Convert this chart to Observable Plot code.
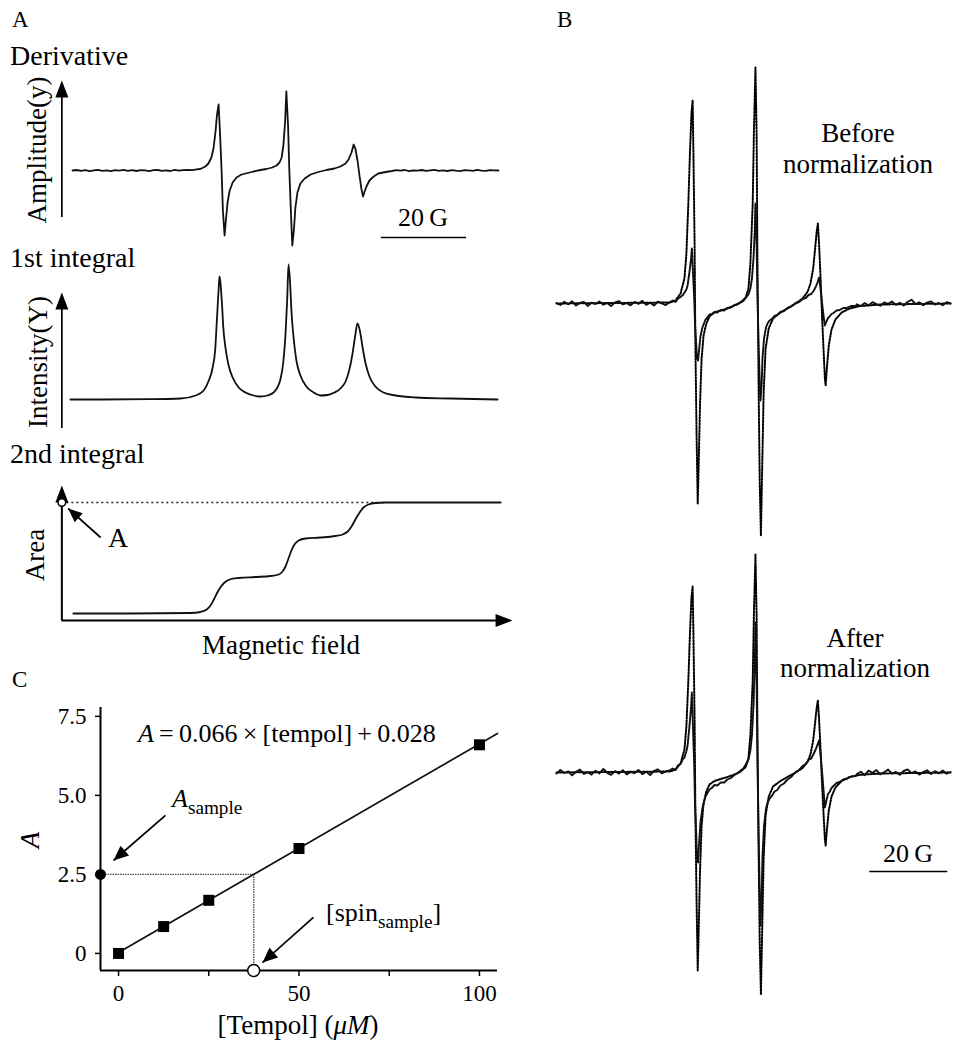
<!DOCTYPE html>
<html><head><meta charset="utf-8">
<script src="https://cdn.jsdelivr.net/npm/d3@7"></script>
<script src="https://cdn.jsdelivr.net/npm/@observablehq/plot@0.6"></script>
<style>
html,body{margin:0;padding:0;background:#fff;}
#fig{position:relative;width:954px;height:1050px;overflow:hidden;font-family:"Liberation Serif","DejaVu Serif",serif;color:#000;background:#fff;}
.lbl{position:absolute;white-space:nowrap;line-height:1;font-family:"Liberation Serif","DejaVu Serif",serif;}
.sub{font-size:0.74em;position:relative;top:0.36em;}
</style></head><body><div id="fig"></div>
<script>
// ================= DATA =================
// Panel A – field (G) vs derivative amplitude
const derivSpectrum = [
[0,0],[1,0.5],[2,-0.4],[3,0.3],[4,-0.6],[5,0.2],[6,0.6],[7,-0.3],[8,0.1],[9,-0.6],[10,0.4],[11,-0.2],[12,0.6],[13,-0.4],[14,0.3],[15,-0.5],[16,0.4],[17,0.1],[18,-0.6],[19,0.3],[20,0.5],[21,-0.3],[22,0.2],[23,-0.5],[24,0.6],[25,-0.2],[26,0.3],[27,0.7],[28,0.4],[29.2,1.2],
[30.0,1.5],[31.2,4],[31.9,7],[32.6,13],[33.1,22],[33.6,40],[33.9,55],[34.3,66],[34.6,40],[35.0,0],[35.3,-40],[35.7,-65],[36.0,-50],[36.4,-32],[36.9,-20],[37.6,-12],[38.5,-7],[39.7,-4],[41.1,-2.5],[42.5,-1],[44.1,0.5],[45.5,1.5],[46.9,3],[47.9,5],[48.6,8],[49.1,13],[49.5,25],[49.9,48],[50.2,79],[50.6,45],[50.9,0],[51.3,-45],[51.6,-75],[52.0,-58],[52.3,-38],[52.8,-22],[53.5,-13],[54.5,-8],[55.9,-4],[57.7,-1.5],[59.6,0.5],[61.5,2],[62.9,4],[64.1,7],[64.8,11],[65.5,18],[66.0,26],[66.4,22],[66.9,10],[67.4,-6],[67.8,-18],[68.2,-26],[68.5,-22],[69.0,-16],[69.7,-10],[70.7,-6],[71.8,-3],[73.5,-1.5],
[75,-0.5],[76,0.3],[77,-0.2],[78,0.5],[79,-0.6],[80,0.2],[81,-0.1],[82,0.5],[83,-0.4],[84,0.2],[85,0.6],[86,-0.3],[87,0.1],[88,-0.5],[89,0.4],[90,-0.2],[91,-0.6],[92,0.3],[93,0.1],[94,-0.4],[95,0.6],[96,-0.1],[97,-0.4],[98,0.3],[99,0.2],[100,0]
];
// Panel A – 1st integral (intensity)
const firstIntegral = [
[-0.5,0],[6.6,0],[18.3,0.3],[25.4,1],[28.9,4],[30.8,9],[31.9,18],[32.9,32],[33.5,50],[33.9,80],[34.3,110],[34.5,123],[34.7,118],[35.1,95],[35.4,72],[35.9,52],[36.6,35],[37.6,22],[39.0,12],[40.6,7],[42.5,4],[44.1,3],[45.8,4],[47.2,7],[48.1,12],[48.8,20],[49.5,38],[50.0,65],[50.4,100],[50.7,135],[51.1,115],[51.4,88],[51.9,62],[52.6,38],[53.5,24],[54.9,13],[56.6,7],[58.2,4],[59.9,4.5],[61.5,7],[62.9,11],[64.1,18],[65.0,30],[65.7,45],[66.3,62],[66.9,76],[67.5,68],[68.1,52],[68.8,36],[69.7,23],[71.1,13],[73.0,7],[75.8,4],[80.5,2],[88.7,1],[99.8,0]
];
// Panel A – 2nd integral (area)
const secondIntegral = [
[0.2,7],[13.6,7],[27.7,7.5],[30.0,8.5],[31.5,11],[32.4,15],[33.3,22],[34.0,28],[34.7,33],[35.7,38],[36.9,41],[39.0,42.5],[42.9,43.5],[46.5,44.5],[48.4,46],[49.3,49],[50.0,54],[50.7,62],[51.4,70],[52.1,76],[53.1,80],[54.7,82],[58.2,83],[61.7,84.5],[63.4,86],[64.6,89],[65.5,94],[66.4,101],[67.4,108],[68.3,113],[69.5,116],[71.1,117.5],[73.5,118],[81.7,118],[100.5,118]
];
const areaA = 118;          // value of A marked on the 2nd integral
const scaleBarG = 20;       // scale bar length (G)

// Panel B – before normalization
const beforeSolid = [
[0,0.5],[1,-1.5],[2,1.8],[3,-0.8],[4,2.2],[5,-2.0],[6,0.6],[7,1.5],[8,-2.4],[9,0.9],[10,-0.5],[11,2.0],[12,-1.2],[13,0.4],[14,-2.6],[15,1.1],[16,2.4],[17,-0.9],[18,0.3],[19,-1.8],[20,1.6],[21,-0.4],[22,2.7],[23,-1.3],[24,0.8],[25,-2.1],[26,1.9],[27,0.2],[28,-1.6],[29,1.2],
[29.8,3],[30.5,1.5],[31.2,5],[31.8,6.5],[32.4,8.5],[32.8,11],[33.3,14],[33.6,18],[34.1,32],[34.5,45],[34.7,55],[35.0,30],[35.3,5],[35.5,-20],[35.8,-40],[36.0,-55],[36.3,-57],[36.5,-48],[36.9,-33],[37.4,-24],[37.8,-20],[38.2,-16],[38.7,-14],[39.2,-11],[39.8,-10.5],[40.5,-8.5],[41.2,-9],[42.1,-6.5],[43,-7],[43.8,-4.5],[44.7,-4],[45.6,-1.5],[46.4,-1],[47.2,1.5],[47.9,2.5],[48.5,5.5],[49.2,9],[49.7,15],[50.1,25],[50.5,45],[50.8,70],[51.0,100],[51.3,60],[51.5,10],[51.8,-40],[52.1,-80],[52.3,-97],[52.6,-80],[52.8,-55],[53.2,-35],[53.7,-24],[54.1,-20],[54.6,-17],[55.2,-15.5],[55.9,-12.5],[56.6,-11.5],[57.4,-8.5],[58.3,-7.5],[59.2,-4.5],[60.2,-3],[61.3,0.5],[62.2,1.5],[63.1,4.5],[63.9,5.5],[64.6,8.5],[65.3,9.5],[65.9,12.5],[66.5,17],[67.0,22],[67.3,26],[67.7,14],[68.1,0],[68.5,-14],[68.8,-22],[69.2,-18],[69.6,-14.5],[70.0,-13],[70.5,-10.5],[71.0,-9.5],[71.8,-7],[72.6,-6.5],[73.5,-4.5],[74.4,-4.5],[75.5,-2.5],[76.7,-2.5],
[77,-0.8],[78,-2.5],[79,0.4],[80,-1.9],[81,1.3],[82,-0.6],[83,-2.2],[84,1.0],[85,-0.3],[86,2.0],[87,-1.4],[88,0.7],[89,-2.0],[90,1.5],[91,3.8],[92,-0.5],[93,1.2],[94,-1.7],[95,0.9],[96,2.1],[97,-1.1],[98,0.5],[99,-1.8],[100,1.3],[101,0]
];
const beforeDotted = [
[0,0],[29.2,1],[30.5,3],[31.8,10],[32.8,25],[33.3,50],[33.8,100],[34.2,150],[34.6,190],[34.9,203],[35.1,150],[35.4,60],[35.6,-40],[35.9,-130],[36.2,-200],[36.4,-170],[36.8,-100],[37.2,-55],[37.7,-32],[38.4,-20],[39.2,-13],[40.5,-9],[42.1,-7],[43.8,-5],[45.6,-2],[47.2,1],[48.5,6],[49.2,15],[49.7,40],[50.3,100],[50.6,170],[51.0,236],[51.3,170],[51.5,50],[51.8,-80],[52.1,-180],[52.4,-232],[52.7,-170],[53.1,-90],[53.6,-45],[54.4,-25],[55.5,-15],[57.4,-9],[59.2,-5],[61.3,0],[63.1,5],[64.4,12],[65.1,20],[65.8,35],[66.3,55],[66.7,72],[67.0,80],[67.3,60],[67.7,25],[68.1,-15],[68.5,-50],[68.8,-75],[69.0,-82],[69.3,-65],[69.8,-42],[70.5,-26],[71.5,-16],[73.1,-9],[75.1,-5],[77.9,-2.5],[83.1,-1],[101,0]
];
// Panel B – after normalization
const afterSolid = [
[0,-1],[1,2.5],[2,-0.5],[3,1.2],[4,-2.8],[5,0.7],[6,2.9],[7,-1.4],[8,0.2],[9,-2.2],[10,1.8],[11,-0.9],[12,3.5],[13,-0.3],[14,-2.4],[15,1.4],[16,-1.1],[17,2.3],[18,-1.9],[19,0.5],[20,-0.7],[21,2.6],[22,-1.6],[23,0.9],[24,-2.5],[25,1.7],[26,3.2],[27,-0.8],[28,1.1],[29,2.2],
[29.8,4],[30.5,2.5],[31.2,7.5],[31.8,8.5],[32.4,13.5],[32.8,15],[33.3,21.5],[33.6,27],[34.1,47],[34.5,66],[34.7,80],[35.0,44],[35.3,7],[35.5,-30],[35.8,-60],[36.0,-85],[36.3,-90],[36.5,-74],[36.9,-50],[37.4,-36],[37.8,-29.5],[38.2,-24],[38.7,-20.5],[39.2,-17],[39.8,-15.5],[40.5,-12.5],[41.2,-13],[42.1,-10],[43,-10],[43.8,-7],[44.7,-5.5],[45.6,-2.5],[46.4,-1],[47.2,2],[47.9,4],[48.5,8],[49.2,13],[49.7,22],[50.1,37],[50.5,67],[50.8,105],[51.0,150],[51.3,90],[51.5,15],[51.8,-60],[52.1,-122],[52.3,-153],[52.6,-122],[52.8,-84],[53.2,-53],[53.7,-36],[54.1,-30.5],[54.6,-26],[55.2,-23.5],[55.9,-19],[56.6,-17.5],[57.4,-13],[58.3,-11],[59.2,-7],[60.2,-4.5],[61.3,0.5],[62.2,2.5],[63.1,6.5],[63.9,8.5],[64.6,12.5],[65.3,14],[65.9,18.5],[66.5,23.5],[67.0,29],[67.3,32],[67.7,17],[68.1,0],[68.5,-20],[68.8,-35],[69.2,-28],[69.6,-21.5],[70.0,-19.5],[70.5,-15.5],[71.0,-13.5],[71.8,-10.5],[72.6,-9.5],[73.5,-7],[74.4,-6.5],[75.5,-4],[76.7,-3.5],
[77,-1.5],[78,0.8],[79,-2.7],[80,1.9],[81,-0.4],[82,2.4],[83,-1.8],[84,0.3],[85,2.9],[86,-1.2],[87,0.6],[88,-2.3],[89,1.5],[90,3.1],[91,-0.6],[92,1.0],[93,-2.1],[94,0.4],[95,2.2],[96,-1.5],[97,1.3],[98,-0.9],[99,2.0],[100,-1.2],[101,0.5]
];
const afterDotted = [
[0,0],[29.2,1],[30.5,3],[31.8,9],[32.8,23],[33.3,46],[33.8,92],[34.2,138],[34.6,175],[34.9,186],[35.1,138],[35.4,55],[35.6,-38],[35.9,-128],[36.2,-198],[36.4,-168],[36.8,-98],[37.2,-53],[37.7,-31],[38.4,-19],[39.2,-12],[40.5,-8.5],[42.1,-6.5],[43.8,-4.5],[45.6,-2],[47.2,1],[48.5,5.5],[49.2,14],[49.7,37],[50.3,92],[50.6,157],[51.0,218],[51.3,157],[51.5,46],[51.8,-76],[52.1,-172],[52.4,-222],[52.7,-163],[53.1,-86],[53.6,-43],[54.4,-24],[55.5,-14],[57.4,-8.5],[59.2,-4.5],[61.3,0],[63.1,4.5],[64.4,11],[65.1,18],[65.8,32],[66.3,50],[66.7,65],[67.0,72],[67.3,54],[67.7,22],[68.1,-14],[68.5,-45],[68.8,-67],[69.0,-73],[69.3,-58],[69.8,-38],[70.5,-24],[71.5,-15],[73.1,-8.5],[75.1,-4.5],[77.9,-2.3],[83.1,-1],[101,0]
];

// Panel C – calibration
const tempolConc = [0, 12.5, 25, 50, 100];      // µM
const tempolArea = [0, 0.85, 1.68, 3.32, 6.6];  // A
const fitSlope = 0.066, fitIntercept = 0.028;
const fitRange = [0, 105];
const sampleArea = 2.5;
const cXTicks = [0, 25, 50, 75, 100];
const cXTickLabels = ["0", "", "50", "", "100"];
const cYTicks = [0, 2.5, 5, 7.5];
const cYTickLabels = ["0", "2.5", "5.0", "7.5"];

// ================= HELPERS =================
const fig = document.getElementById("fig");
const SERIF = '"Liberation Serif","DejaVu Serif",serif';
function place(node, left, top) {
  node.style.position = "absolute"; node.style.left = left + "px"; node.style.top = top + "px";
  fig.appendChild(node);
}
function style(fs) { return {fontFamily: SERIF, fontSize: fs + "px", color: "#000", background: "transparent", overflow: "visible"}; }
// filled arrow head symbol, tip at the anchor point, rotated clockwise by deg
function head(L, W, deg) {
  const t = deg * Math.PI / 180, c = Math.cos(t), s = Math.sin(t);
  const rot = (x, y) => [x * c - y * s, x * s + y * c];
  return {draw(ctx) { const a = rot(W, L), b = rot(-W, L); ctx.moveTo(0, 0); ctx.lineTo(a[0], a[1]); ctx.lineTo(b[0], b[1]); ctx.closePath(); }};
}
function lin(d, r) { return v => r[0] + (v - d[0]) / (d[1] - d[0]) * (r[1] - r[0]); }
function angleOf(sx, sy, from, to) { const dx = sx(to[0]) - sx(from[0]), dy = sy(to[1]) - sy(from[1]); return Math.atan2(dx, -dy) * 180 / Math.PI; }
const px = d => d[0], py = d => d[1];
function label(html, o) {
  const d = document.createElement("div");
  d.className = "lbl"; d.innerHTML = html; d.style.fontSize = o.fs + "px";
  if (o.rot) {
    d.style.left = o.cx + "px"; d.style.top = o.cy + "px";
    d.style.transform = "translate(-50%,-50%) rotate(-90deg)";
  } else {
    d.style.top = (o.b - 0.8375 * o.fs) + "px";
    if (o.cx !== undefined) { d.style.left = o.cx + "px"; d.style.transform = "translateX(-50%)"; }
    else d.style.left = o.x + "px";
  }
  fig.appendChild(d);
}
const STROKE = "#111";
const DOTS = {stroke: "#000", strokeWidth: 2, strokeDasharray: "1.6,1.6"};

// ================= PANEL A =================
const fieldDomain = [0, 100];
const A = {width: 520, ml: 72, mr: 22};
const axisXA = -2.5;  // field position of the drawn vertical axes

// A1 derivative
{
  const yD = [-80, 110];
  const p = Plot.plot({
    width: A.width, height: 190, marginLeft: A.ml, marginRight: A.mr, marginTop: 0, marginBottom: 0,
    x: {domain: fieldDomain, axis: null}, y: {domain: yD, axis: null}, style: style(20),
    marks: [
      Plot.line(derivSpectrum, {x: px, y: py, stroke: STROKE, strokeWidth: 1.8}),
      Plot.ruleX([{x: axisXA, y1: -47, y2: 80}], {x: "x", y1: "y1", y2: "y2", strokeWidth: 1.7}),
      Plot.dot([{x: axisXA, y: 90}], {x: "x", y: "y", symbol: head(17, 6.5, 0), fill: "#000", stroke: "none"}),
      Plot.ruleY([{y: -67, x1: 72.5, x2: 72.5 + scaleBarG}], {y: "y", x1: "x1", x2: "x2", strokeWidth: 1.7})
    ]
  });
  place(p, 0, 60);
}
// A2 first integral
{
  const yD = [-36, 149];
  const p = Plot.plot({
    width: A.width, height: 185, marginLeft: A.ml, marginRight: A.mr, marginTop: 0, marginBottom: 0,
    x: {domain: fieldDomain, axis: null}, y: {domain: yD, axis: null}, style: style(20),
    marks: [
      Plot.line(firstIntegral, {x: px, y: py, stroke: STROKE, strokeWidth: 1.8, curve: "monotone-x"}),
      Plot.ruleX([{x: axisXA, y1: -29, y2: 97}], {x: "x", y1: "y1", y2: "y2", strokeWidth: 1.7}),
      Plot.dot([{x: axisXA, y: 107}], {x: "x", y: "y", symbol: head(17, 6.5, 0), fill: "#000", stroke: "none"})
    ]
  });
  place(p, 0, 250);
}
// A3 second integral
{
  const yD = [-20, 180], H = 200;
  const sx = lin(fieldDomain, [A.ml, A.width - A.mr]), sy = lin(yD, [H, 0]);
  const aTail = [6.6, 83], aTip = [-1.0, 112];
  const p = Plot.plot({
    width: A.width, height: H, marginLeft: A.ml, marginRight: A.mr, marginTop: 0, marginBottom: 0,
    x: {domain: fieldDomain, axis: null}, y: {domain: yD, axis: null}, style: style(20),
    marks: [
      Plot.ruleY([{y: areaA, x1: axisXA, x2: 73.5}], {y: "y", x1: "x1", x2: "x2", strokeWidth: 1.6, strokeDasharray: "2,3", stroke: "#222"}),
      Plot.line(secondIntegral, {x: px, y: py, stroke: STROKE, strokeWidth: 1.8, curve: "monotone-x"}),
      Plot.ruleX([{x: axisXA, y1: 0, y2: 122}], {x: "x", y1: "y1", y2: "y2", strokeWidth: 2}),
      Plot.dot([{x: axisXA, y: 135}], {x: "x", y: "y", symbol: head(17, 6.5, 0), fill: "#000", stroke: "none"}),
      Plot.ruleY([{y: 0, x1: axisXA, x2: 100}], {y: "y", x1: "x1", x2: "x2", strokeWidth: 2}),
      Plot.dot([{x: 103.3, y: 0}], {x: "x", y: "y", symbol: head(17, 6.5, 90), fill: "#000", stroke: "none"}),
      Plot.link([{x1: aTail[0], y1: aTail[1], x2: aTip[0], y2: aTip[1]}], {x1: "x1", y1: "y1", x2: "x2", y2: "y2", strokeWidth: 1.7, stroke: "#000"}),
      Plot.dot([{x: aTip[0], y: aTip[1]}], {x: "x", y: "y", symbol: head(14, 6, angleOf(sx, sy, aTail, aTip)), fill: "#000", stroke: "none"}),
      Plot.dot([{x: axisXA, y: areaA}], {x: "x", y: "y", r: 3.8, fill: "#fff", stroke: "#000", strokeWidth: 1.5})
    ]
  });
  place(p, 0, 440);
}

// ================= PANEL B =================
const fieldDomainB = [0, 101];
const B = {width: 414, ml: 16, mr: 4};
{
  const p = Plot.plot({
    width: B.width, height: 500, marginLeft: B.ml, marginRight: B.mr, marginTop: 0, marginBottom: 0,
    x: {domain: fieldDomainB, axis: null}, y: {domain: [-247, 253], axis: null}, style: style(20),
    marks: [
      Plot.line(beforeDotted, {x: px, y: py, ...DOTS}),
      Plot.line(beforeSolid, {x: px, y: py, stroke: STROKE, strokeWidth: 1.9})
    ]
  });
  place(p, 540, 50);
}
{
  const p = Plot.plot({
    width: B.width, height: 470, marginLeft: B.ml, marginRight: B.mr, marginTop: 0, marginBottom: 0,
    x: {domain: fieldDomainB, axis: null}, y: {domain: [-238, 232], axis: null}, style: style(20),
    marks: [
      Plot.line(afterDotted, {x: px, y: py, ...DOTS}),
      Plot.line(afterSolid, {x: px, y: py, stroke: STROKE, strokeWidth: 1.9}),
      Plot.ruleY([{y: -99, x1: 80.3, x2: 80.3 + scaleBarG}], {y: "y", x1: "x1", x2: "x2", strokeWidth: 1.7})
    ]
  });
  place(p, 540, 540);
}

// ================= PANEL C =================
{
  const W = 540, H = 360, ml = 100, mr = 43, mt = 17, mb = 80;
  const xD = [-5, 105], yD = [-0.54, 7.78];
  const sx = lin(xD, [ml, W - mr]), sy = lin(yD, [H - mb, mt]);
  const pts = tempolConc.map((c, i) => ({c, a: tempolArea[i]}));
  const fit = fitRange.map(c => ({c, a: fitSlope * c + fitIntercept}));
  const sampleConc = (sampleArea - fitIntercept) / fitSlope;
  const aTail = [13.0, 4.37], aTip = [-1.4, 2.94];
  const sTail = [54.0, 1.14], sTip = [39.9, -0.29];
  const p = Plot.plot({
    width: W, height: H, marginLeft: ml, marginRight: mr, marginTop: mt, marginBottom: mb,
    x: {domain: xD, label: null}, y: {domain: yD, label: null}, style: style(23),
    marks: [
      Plot.axisX({ticks: cXTicks, tickFormat: d => cXTickLabels[cXTicks.indexOf(d)], tickSize: 6, tickPadding: 8, strokeWidth: 1.5, label: null, fontSize: 23}),
      Plot.axisY({ticks: cYTicks, tickFormat: d => cYTickLabels[cYTicks.indexOf(d)], tickSize: 5, tickPadding: 9, strokeWidth: 1.5, label: null, fontSize: 23}),
      Plot.ruleX([{x: xD[0], y1: yD[0], y2: yD[1]}], {x: "x", y1: "y1", y2: "y2", strokeWidth: 2}),
      Plot.ruleY([{y: yD[0], x1: xD[0], x2: xD[1]}], {y: "y", x1: "x1", x2: "x2", strokeWidth: 2}),
      Plot.ruleY([{y: sampleArea, x1: xD[0], x2: sampleConc}], {y: "y", x1: "x1", x2: "x2", stroke: "#444", strokeWidth: 1.3, strokeDasharray: "1.5,1"}),
      Plot.ruleX([{x: sampleConc, y1: sampleArea, y2: yD[0]}], {x: "x", y1: "y1", y2: "y2", stroke: "#444", strokeWidth: 1.3, strokeDasharray: "1.5,1"}),
      Plot.line(fit, {x: "c", y: "a", stroke: STROKE, strokeWidth: 1.7}),
      Plot.dot(pts, {x: "c", y: "a", symbol: "square", r: 6.2, fill: "#000", stroke: "none"}),
      Plot.dot([{x: xD[0], y: sampleArea}], {x: "x", y: "y", r: 5.5, fill: "#000", stroke: "none"}),
      Plot.dot([{x: sampleConc, y: yD[0]}], {x: "x", y: "y", r: 6, fill: "#fff", stroke: "#000", strokeWidth: 1.5}),
      Plot.link([{x1: aTail[0], y1: aTail[1], x2: aTip[0], y2: aTip[1]}, {x1: sTail[0], y1: sTail[1], x2: sTip[0], y2: sTip[1]}], {x1: "x1", y1: "y1", x2: "x2", y2: "y2", strokeWidth: 1.7, stroke: "#000"}),
      Plot.dot([{x: aTip[0], y: aTip[1]}], {x: "x", y: "y", symbol: head(15, 6.5, angleOf(sx, sy, aTail, aTip)), fill: "#000", stroke: "none"}),
      Plot.dot([{x: sTip[0], y: sTip[1]}], {x: "x", y: "y", symbol: head(15, 6.5, angleOf(sx, sy, sTail, sTip)), fill: "#000", stroke: "none"})
    ]
  });
  place(p, 0, 690);
}

// ================= TEXT =================
label("A", {x: 12, b: 27, fs: 23});
label("B", {x: 557, b: 27, fs: 23});
label("C", {x: 12, b: 687, fs: 23});
label("Derivative", {x: 10, b: 65, fs: 28});
label("1st integral", {x: 10, b: 267, fs: 28});
label("2nd integral", {x: 10, b: 463, fs: 28});
label("Amplitude(y)", {cx: 37, cy: 150, fs: 27, rot: true});
label("Intensity(Y)", {cx: 38, cy: 362, fs: 27, rot: true});
label("Area", {cx: 35, cy: 555, fs: 27, rot: true});
label("A", {x: 108, b: 547, fs: 28});
label("Magnetic field", {cx: 281, b: 655, fs: 27});
label("20\u2009G", {cx: 423, b: 227, fs: 26});
label("Before", {cx: 858, b: 143, fs: 27});
label("normalization", {cx: 858, b: 174, fs: 27});
label("After", {cx: 855, b: 648, fs: 27});
label("normalization", {cx: 855, b: 678, fs: 27});
label("20\u2009G", {cx: 908, b: 863, fs: 26});
label("<i>A</i>\u2009=\u20090.066\u2009×\u2009[tempol]\u2009+\u20090.028", {x: 138, b: 743, fs: 26});
label("<i>A</i><span class=\"sub\">sample</span>", {x: 172, b: 808, fs: 26});
label("[spin<span class=\"sub\">sample</span>]", {x: 326, b: 922, fs: 26});
label("<i>A</i>", {cx: 30, cy: 840, fs: 27, rot: true});
label("[Tempol] (<i>μM</i>)", {cx: 298, b: 1035, fs: 27});
</script></body></html>
